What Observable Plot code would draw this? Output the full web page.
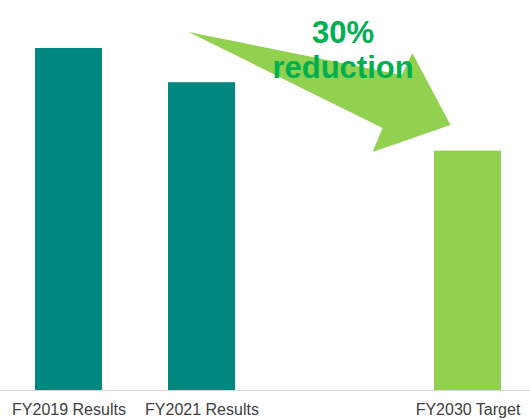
<!DOCTYPE html>
<html><head><meta charset="utf-8">
<script src="https://cdn.jsdelivr.net/npm/d3@7"></script>
<script src="https://cdn.jsdelivr.net/npm/@observablehq/plot@0.6"></script>
<style>body{margin:0;background:#fff}</style>
</head><body><div id="chart"></div>
<script>
// categories on the x axis (" " is an empty slot between FY2021 and FY2030)
const categories = ["FY2019 Results", "FY2021 Results", " ", "FY2030 Target"];
const barCategories = ["FY2019 Results", "FY2021 Results", "FY2030 Target"];
const barValues = [100, 90, 70];
const barKinds = ["Results", "Results", "Target"];
const annotationLines = ["30%", "reduction"];
const annotationValues = [104.6, 94.3];
// arrow outline vertices: anchor category, offset in band steps, value
const arrowCategory = ["FY2021 Results", "FY2030 Target", "FY2030 Target", "FY2030 Target", "FY2030 Target", "FY2030 Target"];
const arrowOffset = [-0.098, -0.496, -0.414, -0.128, -0.714, -0.639];
const arrowValue = [104.7, 92.1, 98.5, 77.5, 69.6, 76.6];

const bars = barCategories.map((c, i) => ({category: c, value: barValues[i], kind: barKinds[i]}));
const notes = annotationLines.map((t, i) => ({text: t, value: annotationValues[i]}));

function arrowMark(index, scales) {
  const x = scales.x, y = scales.y;
  const step = x(categories[1]) - x(categories[0]);
  let bw = step * 0.5;
  if (typeof x.bandwidth === "function") bw = x.bandwidth();
  else if (typeof x.bandwidth === "number") bw = x.bandwidth;
  const pts = arrowCategory.map((c, i) => [x(c) + bw / 2 + arrowOffset[i] * step, y(arrowValue[i])]);
  return d3.create("svg:path")
    .attr("d", "M" + pts.map(p => p.join(",")).join("L") + "Z")
    .attr("fill", "#92D050")
    .node();
}

const chart = Plot.plot({
  width: 530,
  height: 420,
  marginTop: 48,
  marginBottom: 30,
  marginLeft: 0,
  marginRight: 0,
  style: {fontFamily: "'Liberation Sans', Arial, sans-serif", background: "#fff"},
  x: {type: "band", domain: categories, range: [1.75, 533.75], paddingInner: 0.5, paddingOuter: 0.25, axis: null},
  y: {domain: [0, 100], axis: null},
  color: {domain: ["Results", "Target"], range: ["#00877F", "#92D050"]},
  marks: [
    Plot.barY(bars, {x: "category", y: "value", fill: "kind"}),
    Plot.ruleY([0], {stroke: "#d9d9d9", strokeWidth: 1}),
    arrowMark,
    Plot.text(notes, {
      x: () => " ", y: "value", text: "text", dx: 8,
      fill: "#00B050", fontSize: 31, fontWeight: "bold"
    }),
    Plot.axisX({
      domain: categories, label: null,
      tickSize: 0, tickPadding: 13, fontSize: 16, fill: "#404040",
      tickFormat: d => d.trim()
    })
  ]
});
document.getElementById("chart").appendChild(chart);
</script>
</body></html>
